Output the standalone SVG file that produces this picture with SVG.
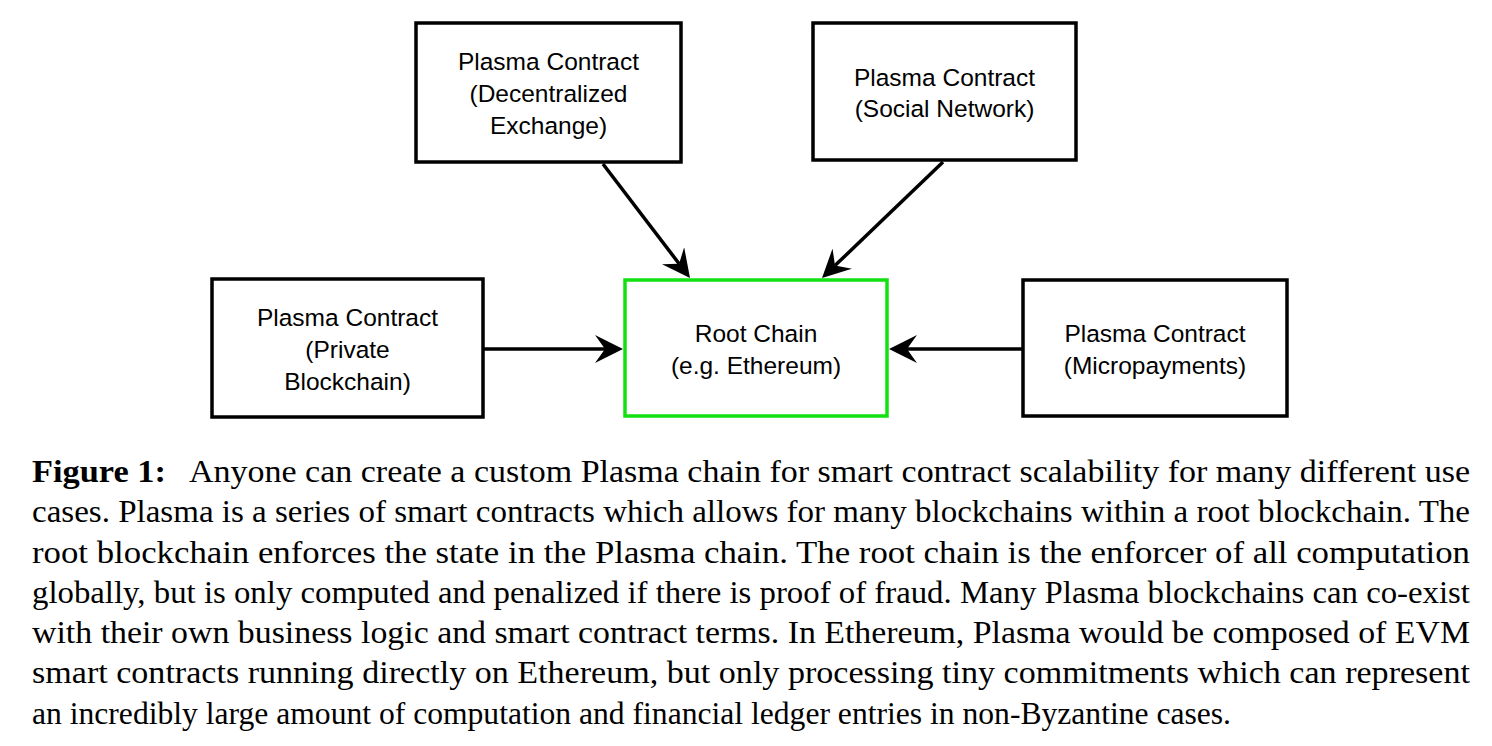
<svg xmlns="http://www.w3.org/2000/svg" width="1492" height="746" viewBox="0 0 1492 746">
<style>
.box{fill:#fff;stroke:#000;stroke-width:3.5}
.root{fill:#fff;stroke:#11e011;stroke-width:3.5}
.lbl{font-family:"Liberation Sans",Arial,sans-serif;font-size:24.5px;fill:#000;text-anchor:middle}
.cap{font-family:"Liberation Serif","Times New Roman",serif;font-size:31px;fill:#000}
.conn{stroke:#000;stroke-width:3.5;fill:none;marker-end:url(#arr)}
</style>
<defs>
<marker id="arr" viewBox="0 -14 28 28" markerWidth="28" markerHeight="28" refX="10" refY="0" orient="auto" markerUnits="userSpaceOnUse">
<path d="M28,0 L0,-14 L10,0 L0,14 Z" fill="#000"/>
</marker>
</defs>
<rect width="1492" height="746" fill="#fff"/>
<g id="connectors">
<line class="conn" x1="603" y1="164" x2="679.1" y2="263.7"/>
<line class="conn" x1="943" y1="162" x2="835" y2="265.6"/>
<line class="conn" x1="484" y1="349" x2="605" y2="349"/>
<line class="conn" x1="1022" y1="349" x2="907" y2="349"/>
</g>
<g id="node-dex">
<rect class="box" x="416" y="23" width="265" height="139"/>
<text class="lbl" x="548.5" y="70">Plasma Contract</text>
<text class="lbl" x="548.5" y="102">(Decentralized</text>
<text class="lbl" x="548.5" y="134">Exchange)</text>
</g>
<g id="node-social">
<rect class="box" x="813" y="23" width="263" height="137"/>
<text class="lbl" x="944.5" y="86">Plasma Contract</text>
<text class="lbl" x="944.5" y="117">(Social Network)</text>
</g>
<g id="node-private">
<rect class="box" x="212" y="279" width="271" height="138"/>
<text class="lbl" x="347.5" y="326">Plasma Contract</text>
<text class="lbl" x="347.5" y="358">(Private</text>
<text class="lbl" x="347.5" y="390">Blockchain)</text>
</g>
<g id="node-root">
<rect class="root" x="625" y="280" width="262" height="136"/>
<text class="lbl" x="756" y="342">Root Chain</text>
<text class="lbl" x="756" y="374">(e.g. Ethereum)</text>
</g>
<g id="node-micro">
<rect class="box" x="1023" y="280" width="264" height="136"/>
<text class="lbl" x="1155" y="342">Plasma Contract</text>
<text class="lbl" x="1155" y="374">(Micropayments)</text>
</g>
<g id="caption">
<text class="cap" x="32" y="482" font-weight="bold" textLength="134" lengthAdjust="spacingAndGlyphs">Figure 1:</text>
<text class="cap" x="189" y="482" textLength="1281" lengthAdjust="spacingAndGlyphs">Anyone can create a custom Plasma chain for smart contract scalability for many different use</text>
<text class="cap" x="32" y="522.3" textLength="1438" lengthAdjust="spacingAndGlyphs">cases. Plasma is a series of smart contracts which allows for many blockchains within a root blockchain. The</text>
<text class="cap" x="32" y="562.5" textLength="1438" lengthAdjust="spacingAndGlyphs">root blockchain enforces the state in the Plasma chain. The root chain is the enforcer of all computation</text>
<text class="cap" x="32" y="602.8" textLength="1438" lengthAdjust="spacingAndGlyphs">globally, but is only computed and penalized if there is proof of fraud. Many Plasma blockchains can co-exist</text>
<text class="cap" x="32" y="643" textLength="1438" lengthAdjust="spacingAndGlyphs">with their own business logic and smart contract terms. In Ethereum, Plasma would be composed of EVM</text>
<text class="cap" x="32" y="683.3" textLength="1438" lengthAdjust="spacingAndGlyphs">smart contracts running directly on Ethereum, but only processing tiny commitments which can represent</text>
<text class="cap" x="32" y="723.5" textLength="1199" lengthAdjust="spacingAndGlyphs">an incredibly large amount of computation and financial ledger entries in non-Byzantine cases.</text>
</g>
</svg>
